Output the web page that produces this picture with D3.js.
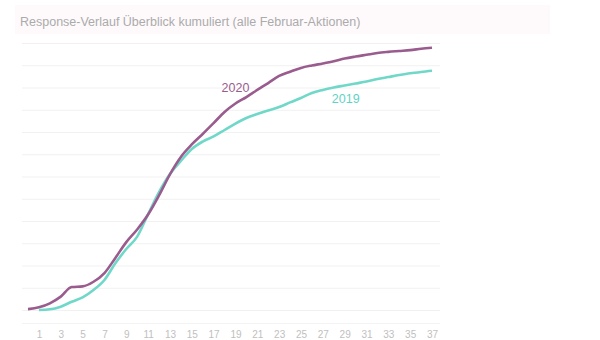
<!DOCTYPE html>
<html>
<head>
<meta charset="utf-8">
<script src="https://cdn.jsdelivr.net/npm/d3@7"></script>
<style>
  html, body { margin: 0; padding: 0; background: #ffffff; }
  svg { display: block; font-family: "Liberation Sans", Arial, sans-serif; }
</style>
</head>
<body>
<svg id="chart" width="600" height="340"></svg>
<script>
// Kumulierter Response-Verlauf nach Tagen seit Versand
const days = d3.range(0, 38);
const tickDays = d3.range(1, 38, 2);

const values2020 = [0.4, 1.2, 3.0, 6.0, 10.3, 10.6, 12.7, 16.6, 23.4, 30.5,
  36.2, 42.9, 51.5, 61.0, 68.8, 74.4, 79.1, 84.0, 89.0, 92.8,
  95.7, 98.9, 102.0, 105.2, 107.1, 108.8, 109.9, 110.8, 111.8, 113.0,
  113.9, 114.7, 115.5, 116.0, 116.4, 116.8, 117.4, 117.9];

// 2019 beginnt erst an Tag 1
const values2019 = [null, 0.0, 0.3, 1.5, 3.7, 5.7, 9.0, 13.5, 21.0, 27.4,
  33.0, 43.1, 53.0, 61.1, 67.0, 72.4, 75.7, 78.0, 80.9, 83.8,
  86.3, 88.1, 89.7, 91.2, 93.3, 95.3, 97.5, 98.9, 100.0, 100.9,
  101.8, 102.7, 103.8, 104.7, 105.6, 106.4, 107.0, 107.5];

const yTicks = d3.range(0, 121, 10);

const title = "Response-Verlauf Überblick kumuliert (alle Februar-Aktionen)";
const colors = { y2020: "#9a5c8e", y2019: "#6fd8c8" };

const svg = d3.select("#chart");

// Titelband
svg.append("rect")
  .attr("x", 15).attr("y", 5).attr("width", 535).attr("height", 29)
  .attr("fill", "#fefafc");

svg.append("text")
  .attr("x", 20).attr("y", 26)
  .attr("font-size", 12.5)
  .attr("fill", "#ababab")
  .text(title);

const x = d3.scaleLinear().domain([0, 37]).range([28, 432]);
const y = d3.scaleLinear().domain([0, 120]).range([310, 43]);

// Horizontale Hilfslinien
svg.append("g")
  .attr("transform", "translate(22,0)")
  .call(d3.axisLeft(y).tickValues(yTicks).tickSize(-418).tickFormat(""))
  .call(g => g.select(".domain").remove())
  .call(g => g.selectAll("line").attr("stroke", "#f1f1f1").attr("stroke-width", 1));

// x-Achse
const xAxis = svg.append("g")
  .attr("transform", "translate(0,323)")
  .call(d3.axisBottom(x).tickValues(tickDays).tickSize(0).tickPadding(8));
xAxis.select(".domain")
  .attr("d", "M22,0.5H440")
  .attr("stroke", "#f3f3f3");
xAxis.selectAll("text")
  .attr("font-family", "'Liberation Sans', Arial, sans-serif")
  .attr("font-size", 10)
  .attr("fill", "#c0c0c0");

const line = d3.line()
  .defined(d => d[1] != null)
  .x(d => x(d[0]))
  .y(d => y(d[1]))
  .curve(d3.curveMonotoneX);

svg.append("path")
  .datum(days.map(d => [d, values2019[d]]))
  .attr("fill", "none")
  .attr("stroke", colors.y2019)
  .attr("stroke-width", 2.6)
  .attr("stroke-linejoin", "round")
  .attr("d", line);

svg.append("path")
  .datum(days.map(d => [d, values2020[d]]))
  .attr("fill", "none")
  .attr("stroke", colors.y2020)
  .attr("stroke-width", 2.6)
  .attr("stroke-linejoin", "round")
  .attr("d", line);

// Serienbeschriftungen
svg.append("text")
  .attr("x", x(19)).attr("y", y(values2020[19]) - 12)
  .attr("text-anchor", "middle")
  .attr("font-size", 12.5)
  .attr("fill", colors.y2020)
  .text("2020");

svg.append("text")
  .attr("x", x(29.1)).attr("y", y(values2019[29]) + 18)
  .attr("text-anchor", "middle")
  .attr("font-size", 12.5)
  .attr("fill", "#5fd3c4")
  .text("2019");
</script>
</body>
</html>
